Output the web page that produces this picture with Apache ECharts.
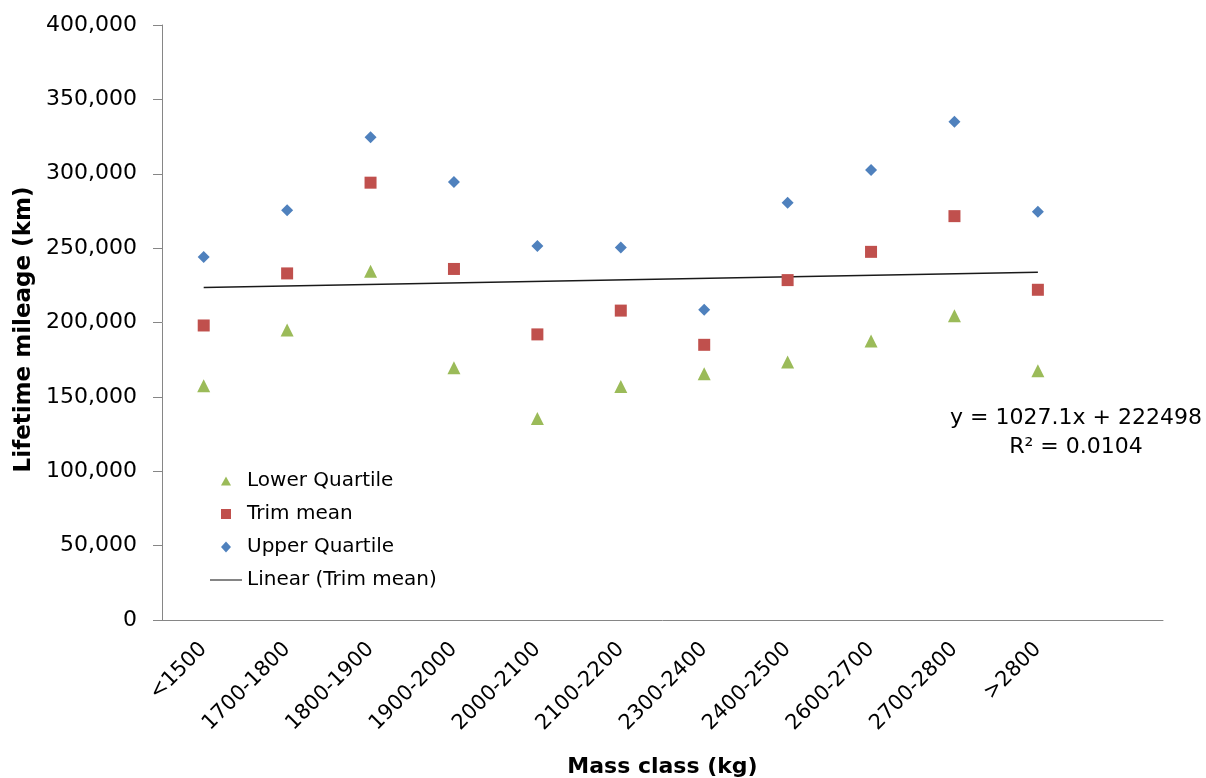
<!DOCTYPE html>
<html>
<head>
<meta charset="utf-8">
<script src="https://cdn.jsdelivr.net/npm/echarts@6/dist/echarts.min.js"></script>
<style>
html,body{margin:0;padding:0;background:#fff;}
#chart{width:1206px;height:778px;}
</style>
</head>
<body>
<div id="chart"></div>
<script>
// Categories (12th band is empty in the original chart)
const categories = ['<1500','1700-1800','1800-1900','1900-2000','2000-2100','2100-2200','2300-2400','2400-2500','2600-2700','2700-2800','>2800',''];
const lowerQuartile = [157500, 195000, 234500, 169500, 135500, 157000, 165500, 173500, 187500, 204500, 167500];
const trimMean      = [198000, 233000, 294000, 236000, 192000, 208000, 185000, 228500, 247500, 271500, 222000];
const upperQuartile = [244000, 275500, 324500, 294500, 251500, 250500, 208500, 280500, 302500, 335000, 274500];
const yTicks = [0, 50000, 100000, 150000, 200000, 250000, 300000, 350000, 400000];
// Trendline coefficients as printed on the chart (x = 1..11)
const trendSlope = 1027.1;
const trendIntercept = 222498;
const trendLabel = ['y = 1027.1x + 222498', 'R² = 0.0104'];

const FONT = '"DejaVu Sans", "Liberation Sans", Arial, sans-serif';
const n = trimMean.length;
const trendData = [
  [0, trendIntercept + trendSlope * 1],
  [n - 1, trendIntercept + trendSlope * n]
];

// legend icons drawn in a 32x14 box (corner points fix the box size)
const BOX = 'M0,0L0,0M32,14L32,14';
const icons = {
  tri: 'path://' + BOX + 'M16,2.5L21,11.5L11,11.5Z',
  sq: 'path://' + BOX + 'M11,2L21,2L21,12L11,12Z',
  dia: 'path://' + BOX + 'M16,1.5L21,7L16,12.5L11,7Z',
  line: 'path://' + BOX + 'M0,6.4L32,6.4L32,7.6L0,7.6Z'
};

const chart = echarts.init(document.getElementById('chart'), null, {renderer: 'canvas'});
chart.setOption({
  animation: false,
  backgroundColor: '#ffffff',
  grid: {left: 162, right: 43, top: 25, bottom: 158, containLabel: false, outerBoundsMode: 'none'},
  legend: {
    orient: 'vertical',
    left: 210, top: 471,
    padding: 0,
    itemWidth: 32, itemHeight: 14, itemGap: 13,
    textStyle: {fontFamily: FONT, fontSize: 20, color: '#000'},
    data: [
      {name: 'Lower Quartile', icon: icons.tri},
      {name: 'Trim mean', icon: icons.sq},
      {name: 'Upper Quartile', icon: icons.dia},
      {name: 'Linear (Trim mean)', icon: icons.line}
    ]
  },
  xAxis: {
    type: 'category',
    data: categories,
    boundaryGap: true,
    axisLine: {lineStyle: {color: '#868686', width: 1}},
    axisTick: {show: false},
    axisLabel: {rotate: 45, margin: 26, interval: 0, padding: [17, 0, 0, 0],
      fontFamily: FONT, fontSize: 21, color: '#000'},
    name: 'Mass class (kg)',
    nameLocation: 'middle',
    nameGap: 136,
    nameTextStyle: {fontFamily: FONT, fontSize: 22, fontWeight: 'bold', color: '#000'},
    splitLine: {show: false}
  },
  yAxis: {
    type: 'value',
    min: yTicks[0], max: yTicks[yTicks.length - 1], interval: 50000,
    axisLine: {show: true, lineStyle: {color: '#868686', width: 1}},
    axisTick: {show: true, inside: false, length: 9, lineStyle: {color: '#868686'}},
    axisLabel: {margin: 25, fontFamily: FONT, fontSize: 22, color: '#000',
      formatter: v => v.toLocaleString('en-US')},
    splitLine: {show: false},
    name: 'Lifetime mileage (km)',
    nameLocation: 'middle',
    nameGap: 126,
    nameTextStyle: {fontFamily: FONT, fontSize: 23, fontWeight: 'bold', color: '#000', padding: [0, 14, 0, 0]}
  },
  series: [
    {name: 'Lower Quartile', type: 'scatter', symbol: 'triangle', symbolSize: 13,
     itemStyle: {color: '#9BBB59', opacity: 1}, data: lowerQuartile, z: 3},
    {name: 'Trim mean', type: 'scatter', symbol: 'rect', symbolSize: 12,
     itemStyle: {color: '#C0504D', opacity: 1}, data: trimMean, z: 3},
    {name: 'Upper Quartile', type: 'scatter', symbol: 'diamond', symbolSize: 12,
     itemStyle: {color: '#4F81BD', opacity: 1}, data: upperQuartile, z: 3},
    {name: 'Linear (Trim mean)', type: 'line', symbol: 'none', data: trendData,
     lineStyle: {color: '#1a1a1a', width: 1.5}, itemStyle: {color: '#333333'}, z: 2}
  ],
  graphic: [
    {type: 'text', x: 1076, y: 418,
     style: {text: trendLabel[0], font: '22px ' + FONT, fill: '#000', textAlign: 'center', textVerticalAlign: 'middle', verticalAlign: 'middle'}},
    {type: 'text', x: 1076, y: 447,
     style: {text: trendLabel[1], font: '22px ' + FONT, fill: '#000', textAlign: 'center', textVerticalAlign: 'middle', verticalAlign: 'middle'}}
  ]
});
</script>
</body>
</html>
